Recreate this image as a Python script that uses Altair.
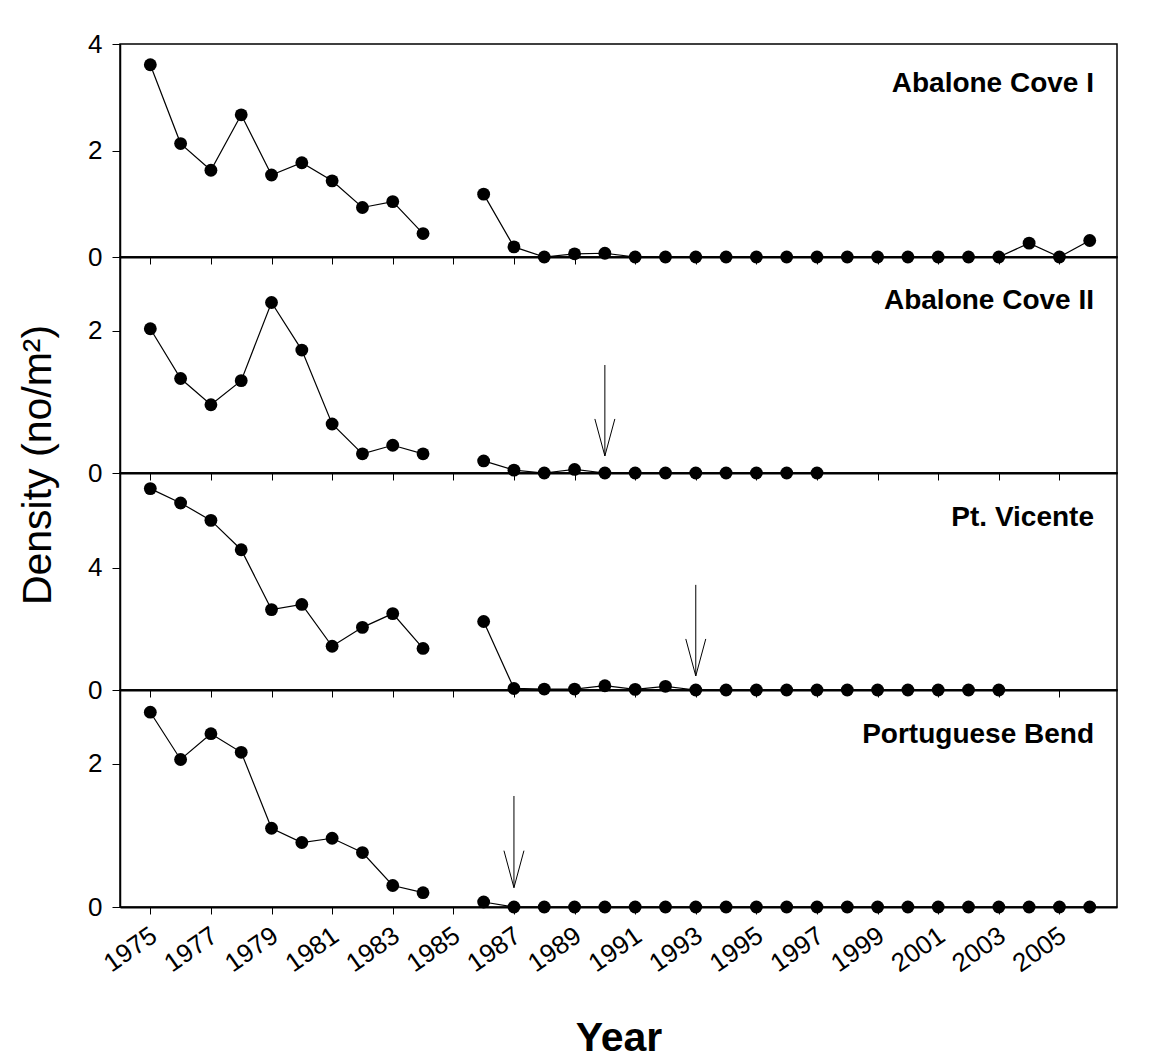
import altair as alt
import pandas as pd

FONT = "Liberation Sans"

years = [1975, 1976, 1977, 1978, 1979, 1980, 1981, 1982, 1983, 1984,
         1986, 1987, 1988, 1989, 1990, 1991, 1992, 1993, 1994, 1995, 1996,
         1997, 1998, 1999, 2000, 2001, 2002, 2003, 2004, 2005, 2006]
tick_years = list(range(1975, 2006, 2))

sites = ["Abalone Cove I", "Abalone Cove II", "Pt. Vicente", "Portuguese Bend"]

abalone_cove_1 = [3.61, 2.13, 1.63, 2.67, 1.54, 1.77, 1.43, 0.93, 1.04, 0.44,
                  1.18, 0.19, 0.0, 0.06, 0.07, 0.0, 0.0, 0.0, 0.0, 0.0, 0.0,
                  0.0, 0.0, 0.0, 0.0, 0.0, 0.0, 0.0, 0.26, 0.0, 0.31]
abalone_cove_2 = [2.03, 1.33, 0.96, 1.30, 2.40, 1.73, 0.69, 0.27, 0.39, 0.27,
                  0.17, 0.04, 0.0, 0.05, 0.0, 0.0, 0.0, 0.0, 0.0, 0.0, 0.0,
                  0.0, None, None, None, None, None, None, None, None, None]
pt_vicente = [6.59, 6.12, 5.55, 4.59, 2.63, 2.80, 1.43, 2.05, 2.50, 1.36,
              2.24, 0.05, 0.03, 0.03, 0.14, 0.02, 0.12, 0.0, 0.0, 0.0, 0.0,
              0.0, 0.0, 0.0, 0.0, 0.0, 0.0, 0.0, None, None, None]
portuguese_bend = [2.72, 2.06, 2.42, 2.16, 1.10, 0.90, 0.96, 0.76, 0.30, 0.20,
                   0.07, 0.0, 0.0, 0.0, 0.0, 0.0, 0.0, 0.0, 0.0, 0.0, 0.0,
                   0.0, 0.0, 0.0, 0.0, 0.0, 0.0, 0.0, 0.0, 0.0, 0.0]
series = [abalone_cove_1, abalone_cove_2, pt_vicente, portuguese_bend]

arrow_sites = ["Abalone Cove II", "Pt. Vicente", "Portuguese Bend"]
arrow_years = [1990, 1993, 1987]
arrow_tops = [1.52, 3.44, 1.55]
arrow_tips = [0.24, 0.46, 0.27]

y_max = [4.0, 3.04, 7.1, 3.03]
y_ticks = [[0, 2, 4], [0, 2], [0, 4], [0, 2]]
heights = [213, 216, 217, 217]
label_y = [48, 52, 53, 53]

W = 997
X_DOMAIN = [1974.0, 2006.9]
HEAD = "M -0.54 -2 L 0 0 L 0.54 -2"


def make_panel(i):
    site = sites[i]
    df = pd.DataFrame({"year": years, "density": series[i]}).dropna()
    df["segment"] = (df["year"] > 1985).astype(int)
    last = i == len(sites) - 1

    if last:
        x_axis = alt.Axis(values=tick_years, format="d", grid=False, tickSize=7,
                          tickWidth=1, domainWidth=2, labelFontSize=26,
                          labelAngle=325, labelAlign="right", labelBaseline="top",
                          labelPadding=8, labelOffset=-4, labelOverlap=False,
                          labelFlush=False, title="Year", titleFontSize=41,
                          titleFontWeight="bold", titlePadding=42)
    else:
        x_axis = alt.Axis(values=tick_years, grid=False, tickSize=7, tickWidth=1,
                          domainWidth=2, labels=False, title=None)
    x = alt.X("year:Q", scale=alt.Scale(domain=X_DOMAIN, nice=False, zero=False),
              axis=x_axis)
    y = alt.Y("density:Q", scale=alt.Scale(domain=[0, y_max[i]], nice=False),
              axis=alt.Axis(values=y_ticks[i], title=None, grid=False, tickSize=8,
                            tickWidth=1, labelFontSize=26, labelPadding=10,
                            domainWidth=1.5, labelOverlap=False, labelFlush=False))

    layers = [
        alt.Chart(df).mark_line(color="black", strokeWidth=1.2).encode(
            x=x, y=y, detail="segment:N"),
        alt.Chart(df).mark_circle(size=165, color="black", opacity=1).encode(
            x=x, y=y),
        alt.Chart(pd.DataFrame({"t": [site]})).mark_text(
            align="right", baseline="alphabetic", fontSize=28, fontWeight="bold",
            font=FONT, color="black").encode(
            x=alt.value(974), y=alt.value(label_y[i]), text="t:N"),
    ]

    if site in arrow_sites:
        k = arrow_sites.index(site)
        shaft = pd.DataFrame({"year": [arrow_years[k]], "density": [arrow_tops[k]],
                              "density2": [arrow_tips[k]]})
        head = pd.DataFrame({"year": [arrow_years[k]], "density": [arrow_tips[k]]})
        layers.append(alt.Chart(shaft).mark_rule(color="black", strokeWidth=1).encode(
            x=x, y=y, y2="density2:Q"))
        layers.append(alt.Chart(head).mark_point(
            shape=HEAD, size=1369, filled=False, stroke="black", strokeWidth=1,
            opacity=1).encode(x=x, y=y))

    if i == 2:
        layers.append(alt.Chart(pd.DataFrame({"t": ["Density (no/m²)"]})).mark_text(
            angle=270, align="center", baseline="alphabetic", fontSize=41,
            font=FONT, color="black").encode(
            x=alt.value(-69), y=alt.value(-8), text="t:N"))

    return alt.layer(*layers).properties(width=W, height=heights[i])


panels = [make_panel(i) for i in range(len(sites))]

chart = alt.vconcat(*panels, spacing=0, bounds="flush").properties(
    padding={"left": 9, "top": 22, "right": 5, "bottom": 0},
    background="white",
).configure_view(
    stroke="black", strokeWidth=1.5
).configure_axis(
    domainColor="black", tickColor="black", labelColor="black",
    labelFont=FONT, titleFont=FONT, titleColor="black"
)

chart.save("out.html", embed_options={"renderer": "svg", "actions": False})
